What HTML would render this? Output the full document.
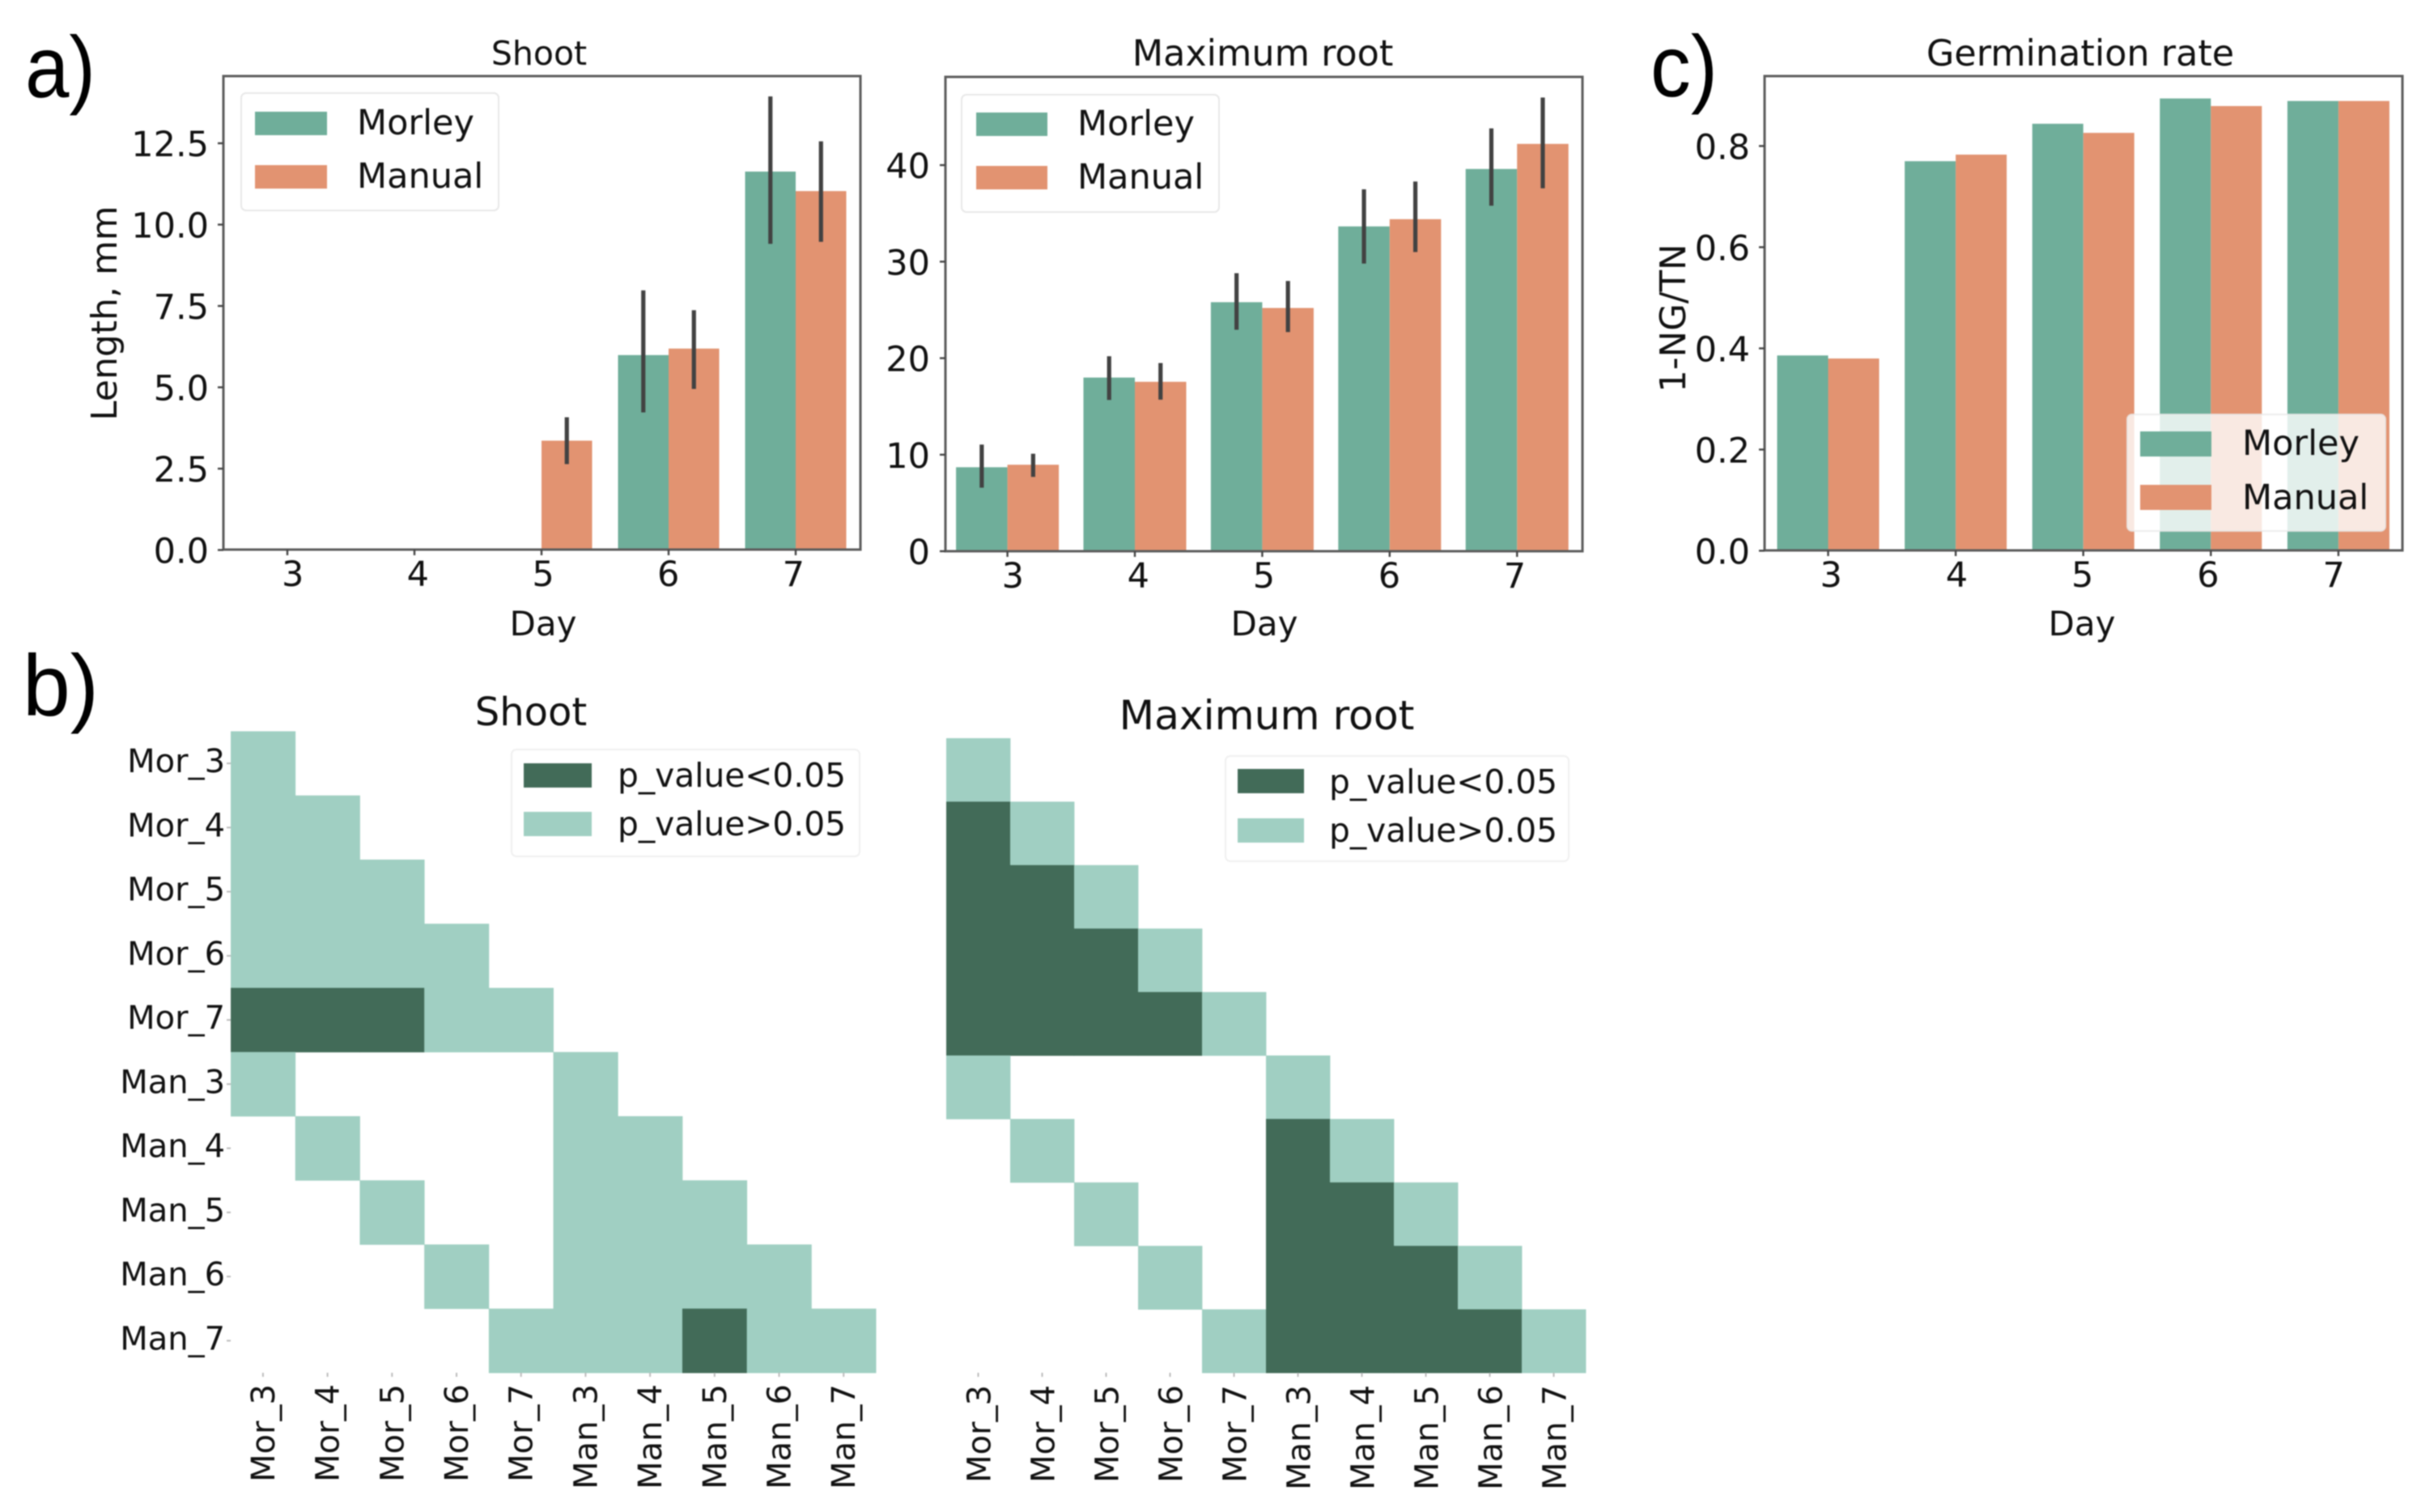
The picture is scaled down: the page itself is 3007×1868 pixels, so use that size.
<!DOCTYPE html>
<html lang="en">
<head>
<meta charset="utf-8">
<title>Morley vs Manual seedling measurements</title>
<style>
  html, body { margin: 0; padding: 0; background: #fff; }
  body { width: 3007px; height: 1868px; overflow: hidden; }
  svg { display: block; filter: blur(0.9px); }
  text { font-family: "DejaVu Sans", "Liberation Sans", sans-serif; fill: #111; }
  .tick { font-size: 43px; }
  .panel { font-family: "Liberation Sans", sans-serif; font-size: 108px; fill: #000; }
  .heat-tick { font-size: 40px; }
  .legend-text { font-size: 43px; }
  .heat-legend-text { font-size: 40.7px; }
</style>
</head>
<body>
<svg id="chart" xmlns="http://www.w3.org/2000/svg" width="3007" height="1868" viewBox="0 0 3007 1868">
  <rect x="0" y="0" width="3007" height="1868" fill="#ffffff"/>

  <text class="panel" x="31" y="120" textLength="87" lengthAdjust="spacingAndGlyphs">a)</text>
  <text class="panel" x="28" y="884" textLength="94" lengthAdjust="spacingAndGlyphs">b)</text>
  <text class="panel" x="2039" y="119" textLength="83" lengthAdjust="spacingAndGlyphs">c)</text>

  <!-- Shoot bar chart -->
  <g>
    <g id="shoot-marks"></g>
    <rect x="276" y="94" width="787" height="585" fill="none" stroke="#5c5c5c" stroke-width="3"/>
    <g id="shoot-axis"></g>
    <text x="666" y="80" font-size="41" text-anchor="middle">Shoot</text>
    <text x="671" y="785" font-size="42" text-anchor="middle">Day</text>
    <text transform="translate(144 387) rotate(-90)" font-size="44" text-anchor="middle">Length, mm</text>
    <g>
      <rect x="298" y="115" width="318" height="145" rx="6" fill="#fff" stroke="#e8e8e8" stroke-width="2"/>
      <rect x="315" y="138" width="89" height="29" fill="#6fae9a"/>
      <rect x="315" y="204" width="89" height="29" fill="#e29371"/>
      <text class="legend-text" x="441" y="166">Morley</text>
      <text class="legend-text" x="441" y="232">Manual</text>
    </g>
  </g>

  <!-- Maximum root bar chart -->
  <g>
    <g id="root-marks"></g>
    <rect x="1168" y="95" width="787" height="586" fill="none" stroke="#5c5c5c" stroke-width="3"/>
    <g id="root-axis"></g>
    <text x="1560" y="81" font-size="44.5" text-anchor="middle">Maximum root</text>
    <text x="1562" y="785" font-size="42" text-anchor="middle">Day</text>
    <g>
      <rect x="1188" y="117" width="318" height="145" rx="6" fill="#fff" stroke="#e8e8e8" stroke-width="2"/>
      <rect x="1206" y="139" width="88" height="29" fill="#6fae9a"/>
      <rect x="1206" y="205" width="88" height="29" fill="#e29371"/>
      <text class="legend-text" x="1331" y="167">Morley</text>
      <text class="legend-text" x="1331" y="233">Manual</text>
    </g>
  </g>

  <!-- Germination rate bar chart -->
  <g>
    <g id="germ-marks"></g>
    <rect x="2180" y="94" width="788" height="586" fill="none" stroke="#5c5c5c" stroke-width="3"/>
    <g id="germ-axis"></g>
    <text x="2570" y="81" font-size="44.5" text-anchor="middle">Germination rate</text>
    <text x="2572" y="785" font-size="42" text-anchor="middle">Day</text>
    <text transform="translate(2082 393) rotate(-90)" font-size="43.5" text-anchor="middle">1-NG/TN</text>
    <g>
      <rect x="2628" y="512" width="319" height="144" rx="6" fill="#fff" fill-opacity="0.8" stroke="#e8e8e8" stroke-opacity="0.8" stroke-width="2"/>
      <rect x="2644" y="533" width="88" height="31" fill="#6fae9a"/>
      <rect x="2644" y="599" width="88" height="31" fill="#e29371"/>
      <text class="legend-text" x="2770" y="562">Morley</text>
      <text class="legend-text" x="2770" y="629">Manual</text>
    </g>
  </g>

  <!-- Shoot heatmap -->
  <g>
    <text x="656" y="896" font-size="48" text-anchor="middle">Shoot</text>
    <g id="heat-shoot"></g>
    <g>
      <rect x="632" y="926" width="430" height="132" rx="6" fill="#fff" stroke="#f0f0f0" stroke-width="2"/>
      <rect x="647" y="943" width="84" height="30" fill="#426b58"/>
      <rect x="647" y="1003" width="84" height="30" fill="#a0cfc2"/>
      <text class="heat-legend-text" x="763" y="972">p_value&lt;0.05</text>
      <text class="heat-legend-text" x="763" y="1032">p_value&gt;0.05</text>
    </g>
  </g>

  <!-- Maximum root heatmap -->
  <g>
    <text x="1565" y="901" font-size="50.3" text-anchor="middle">Maximum root</text>
    <g id="heat-root"></g>
    <g>
      <rect x="1514" y="934" width="424" height="130" rx="6" fill="#fff" stroke="#f0f0f0" stroke-width="2"/>
      <rect x="1529" y="950" width="82" height="30" fill="#426b58"/>
      <rect x="1529" y="1011" width="82" height="30" fill="#a0cfc2"/>
      <text class="heat-legend-text" x="1642" y="980">p_value&lt;0.05</text>
      <text class="heat-legend-text" x="1642" y="1040">p_value&gt;0.05</text>
    </g>
  </g>
</svg>

<script>
// ---------- chart data ----------
const days = ['3', '4', '5', '6', '7'];

const shootMorley = [0, 0, 0, 5.99, 11.63];
const shootManual = [0, 0, 3.36, 6.19, 11.03];
const shootMorleyLow = [null, null, null, 4.23, 9.41];
const shootMorleyHigh = [null, null, null, 7.98, 13.94];
const shootManualLow = [null, null, 2.64, 4.95, 9.47];
const shootManualHigh = [null, null, 4.08, 7.37, 12.56];
const shootTicks = ['0.0', '2.5', '5.0', '7.5', '10.0', '12.5'];

const rootMorley = [8.7, 17.99, 25.8, 33.65, 39.6];
const rootManual = [8.96, 17.55, 25.2, 34.4, 42.2];
const rootMorleyLow = [6.58, 15.67, 22.95, 29.8, 35.8];
const rootMorleyHigh = [11.05, 20.2, 28.8, 37.5, 43.8];
const rootManualLow = [7.7, 15.7, 22.7, 31, 37.6];
const rootManualHigh = [10.1, 19.5, 28, 38.3, 47];
const rootTicks = ['0', '10', '20', '30', '40'];

const germMorley = [0.386, 0.770, 0.844, 0.894, 0.889];
const germManual = [0.380, 0.783, 0.826, 0.879, 0.889];
const germTicks = ['0.0', '0.2', '0.4', '0.6', '0.8'];

const heatLabels = ['Mor_3', 'Mor_4', 'Mor_5', 'Mor_6', 'Mor_7', 'Man_3', 'Man_4', 'Man_5', 'Man_6', 'Man_7'];
// 0 = empty, 1 = p_value>0.05, 2 = p_value<0.05
const shootMatrix = [
  [1,0,0,0,0,0,0,0,0,0],
  [1,1,0,0,0,0,0,0,0,0],
  [1,1,1,0,0,0,0,0,0,0],
  [1,1,1,1,0,0,0,0,0,0],
  [2,2,2,1,1,0,0,0,0,0],
  [1,0,0,0,0,1,0,0,0,0],
  [0,1,0,0,0,1,1,0,0,0],
  [0,0,1,0,0,1,1,1,0,0],
  [0,0,0,1,0,1,1,1,1,0],
  [0,0,0,0,1,1,1,2,1,1]
];
const rootMatrix = [
  [1,0,0,0,0,0,0,0,0,0],
  [2,1,0,0,0,0,0,0,0,0],
  [2,2,1,0,0,0,0,0,0,0],
  [2,2,2,1,0,0,0,0,0,0],
  [2,2,2,2,1,0,0,0,0,0],
  [1,0,0,0,0,1,0,0,0,0],
  [0,1,0,0,0,2,1,0,0,0],
  [0,0,1,0,0,2,2,1,0,0],
  [0,0,0,1,0,2,2,2,1,0],
  [0,0,0,0,1,2,2,2,2,1]
];

// ---------- helpers ----------
const SVG_NS = 'http://www.w3.org/2000/svg';
const MORLEY_COLOR = '#6fae9a';
const MANUAL_COLOR = '#e29371';
const LIGHT_COLOR = '#a0cfc2';
const DARK_COLOR = '#426b58';

function svgEl(tag, parent, attrs, content) {
  const el = document.createElementNS(SVG_NS, tag);
  for (const key in attrs) {
    el.setAttribute(key, attrs[key]);
  }
  if (content !== undefined) {
    el.textContent = content;
  }
  parent.appendChild(el);
  return el;
}

function linearAxis(zeroPx, pxPerUnit) {
  return function (v) { return zeroPx - v * pxPerUnit; };
}

function bandAxis(firstCenter, step) {
  return function (i) { return firstCenter + i * step; };
}

function drawBars(prefix, marks, x, y, barWidth, values, color, series, low, high) {
  values.forEach(function (v, i) {
    if (v > 0) {
      const left = series === 'morley' ? x(i) - barWidth : x(i);
      const bar = svgEl('rect', marks, { x: left, y: y(v), width: barWidth, height: y(0) - y(v), fill: color });
      
      
    }
  });
  if (!low) { return; }
  values.forEach(function (v, i) {
    if (low[i] !== null) {
      const cx = series === 'morley' ? x(i) - barWidth / 2 : x(i) + barWidth / 2;
      const err = svgEl('line', marks, { x1: cx, x2: cx, y1: y(low[i]), y2: y(high[i]), stroke: '#424242', 'stroke-width': 5.2 });
      
      
    }
  });
}

function drawAxes(prefix, axisGroup, x, y, frameLeft, frameBottom, tickLabels, labelRight, labelShift) {
  days.forEach(function (d, i) {
    const tick = svgEl('line', axisGroup, { x1: x(i), x2: x(i), y1: frameBottom, y2: frameBottom + 7, stroke: '#444', 'stroke-width': 2.4 });
    
    
    const labelX = x(2) + (i - 2) * (x(1) - x(0)) * 0.985 + labelShift;
    const label = svgEl('text', axisGroup, { class: 'tick', x: labelX, y: frameBottom + 45, 'text-anchor': 'middle' }, d);
    
    
  });
  tickLabels.forEach(function (t) {
    const py = y(parseFloat(t));
    const tick = svgEl('line', axisGroup, { x1: frameLeft - 7, x2: frameLeft, y1: py, y2: py, stroke: '#444', 'stroke-width': 2.4 });
    
    
    const label = svgEl('text', axisGroup, { class: 'tick', x: labelRight, y: py + 16, 'text-anchor': 'end' }, t);
    
    
  });
}

function drawHeatmap(prefix, group, matrix, rowAxis, colAxis, cellW, cellH, showRowLabels, colBaselineShift, colLabelTop) {
  matrix.forEach(function (row, r) {
    row.forEach(function (v, c) {
      if (v !== 0) {
        const cell = svgEl('rect', group, {
          x: colAxis(c) - cellW / 2, y: rowAxis(r) - cellH / 2,
          width: cellW + 0.4, height: cellH + 0.4,
          fill: v === 2 ? DARK_COLOR : LIGHT_COLOR
        });
        
        
      }
    });
  });
  const left = colAxis(0) - cellW / 2;
  const bottom = rowAxis(matrix.length - 1) + cellH / 2;
  heatLabels.forEach(function (name, i) {
    const xt = svgEl('line', group, { x1: colAxis(i), x2: colAxis(i), y1: bottom, y2: bottom + 5, stroke: '#bbb', 'stroke-width': 2 });
    
    
    const xl = svgEl('text', group, {
      class: 'heat-tick', 'text-anchor': 'end',
      transform: 'translate(' + (colAxis(i) + colBaselineShift) + ' ' + colLabelTop + ') rotate(-90)'
    }, name);
    
    
    if (showRowLabels) {
      const yt = svgEl('line', group, { x1: left - 5, x2: left, y1: rowAxis(i), y2: rowAxis(i), stroke: '#bbb', 'stroke-width': 2 });
      
      
      const yl = svgEl('text', group, { class: 'heat-tick', x: left - 7, y: rowAxis(i) + 11, 'text-anchor': 'end' }, name);
      
      
    }
  });
}

// ---------- shoot bars ----------
const shootX = bandAxis(355, 157);
const shootY = linearAxis(679.5, 40.2);
const shootMarks = document.getElementById('shoot-marks');
drawBars('shoot', shootMarks, shootX, shootY, 62.5, shootMorley, MORLEY_COLOR, 'morley', shootMorleyLow, shootMorleyHigh);
drawBars('shoot', shootMarks, shootX, shootY, 62.5, shootManual, MANUAL_COLOR, 'manual', shootManualLow, shootManualHigh);
drawAxes('shoot', document.getElementById('shoot-axis'), shootX, shootY, 276, 679, shootTicks, 258, 2);

// ---------- root bars ----------
const rootX = bandAxis(1244.6, 157.4);
const rootY = linearAxis(681, 11.925);
const rootMarks = document.getElementById('root-marks');
drawBars('root', rootMarks, rootX, rootY, 63.5, rootMorley, MORLEY_COLOR, 'morley', rootMorleyLow, rootMorleyHigh);
drawBars('root', rootMarks, rootX, rootY, 63.5, rootManual, MANUAL_COLOR, 'manual', rootManualLow, rootManualHigh);
drawAxes('root', document.getElementById('root-axis'), rootX, rootY, 1168, 681, rootTicks, 1149, 2);

// ---------- germination bars ----------
const germX = bandAxis(2258.5, 157.6);
const germY = linearAxis(680.4, 625);
const germMarks = document.getElementById('germ-marks');
drawBars('germination', germMarks, germX, germY, 63, germMorley, MORLEY_COLOR, 'morley');
drawBars('germination', germMarks, germX, germY, 63, germManual, MANUAL_COLOR, 'manual');
drawAxes('germination', document.getElementById('germ-axis'), germX, germY, 2180, 680, germTicks, 2162, -1);

// ---------- heatmaps ----------
drawHeatmap('shoot-heatmap', document.getElementById('heat-shoot'), shootMatrix,
  bandAxis(943.1, 79.25), bandAxis(324.9, 79.7), 79.7, 79.25, true, 14, 1710);
drawHeatmap('root-heatmap', document.getElementById('heat-root'), rootMatrix,
  bandAxis(951.2, 78.4), bandAxis(1208.5, 79), 79, 78.4, false, 15, 1711);
</script>
</body>
</html>
